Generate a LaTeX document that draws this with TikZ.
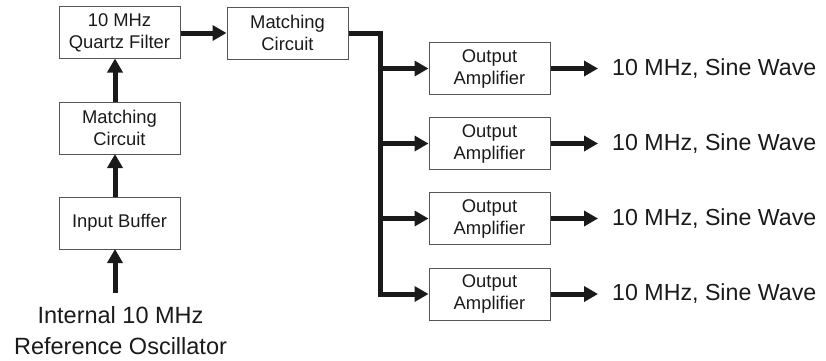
\documentclass[tikz,border=0pt]{standalone}
\usepackage{fontspec}
\setmainfont{Liberation Sans}
\usetikzlibrary{arrows.meta}
\definecolor{ink}{HTML}{1A1A1A}
\definecolor{boxline}{HTML}{555555}
\begin{document}
\begin{tikzpicture}[x=1pt,y=-1pt,
  blk/.style={draw=boxline,line width=1pt,minimum width=121pt,minimum height=52pt,inner sep=0pt,
    align=center,font=\fontsize{18.4}{22}\selectfont,text=ink},
  flow/.style={draw=ink,line width=5pt,-{Triangle[length=14pt,width=15pt]}},
  bus/.style={draw=ink,line width=5pt,line join=miter},
  outtxt/.style={anchor=west,inner sep=0pt,font=\fontsize{23.2}{28}\selectfont,text=ink},
  srctxt/.style={align=center,inner sep=0pt,font=\fontsize{23.5}{31}\selectfont,text=ink}]
\useasboundingbox (0,0) rectangle (826,360);
\node[blk] (qf) at (119.5,32.5) {10 MHz\\Quartz Filter};
\node[blk] (mc1) at (119.5,128) {Matching\\Circuit};
\node[blk] (ib) at (119.5,223) {Input Buffer};
\node[blk] (mc2) at (287.5,33) {Matching\\Circuit};
\node[srctxt] (src) at (120.5,331) {Internal 10 MHz\\Reference Oscillator};
\coordinate (s0) at (115,293);
\draw[flow] (s0) -- (115,249);
\draw[flow] (115,197) -- (115,154);
\draw[flow] (115,102) -- (115,58.5);
\draw[flow] (qf.east |- 0,33) -- (mc2.west |- 0,33);
\foreach \i/\yy in {1/68.5,2/143.5,3/218.5,4/294}{
  \node[blk] (oa\i) at (489.5,\yy) {Output\\Amplifier};
  \coordinate (b\i) at (380,\yy);
  \draw[flow] (b\i) -- (oa\i.west);
  \coordinate (o\i) at (598,\yy);
  \draw[flow] (oa\i.east) -- (o\i);
  \node[outtxt] (t\i) at (612,\yy) {10 MHz, Sine Wave};
}
\draw[bus] (mc2.east) -- (380,33) -- (b4) -- ++(2.5,0);
\end{tikzpicture}
\end{document}
